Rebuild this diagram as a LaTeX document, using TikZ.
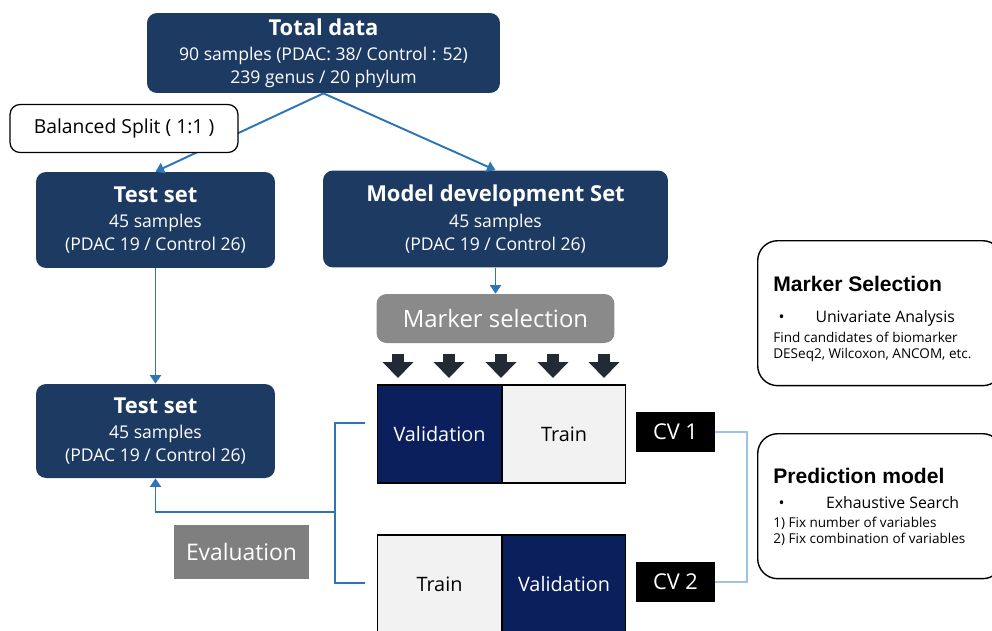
\documentclass[tikz,border=0pt]{standalone}
\usepackage{fontspec}
\setmainfont{Open Sans}
\newfontfamily\headfont{Liberation Sans}
\usetikzlibrary{arrows.meta,positioning}
\definecolor{setNavy}{HTML}{1D3A62}
\definecolor{foldNavy}{HTML}{0A1F5C}
\definecolor{foldGray}{HTML}{F2F2F2}
\definecolor{selGray}{HTML}{8A8A8A}
\definecolor{evalGray}{HTML}{7F7F7F}
\definecolor{arrowDark}{HTML}{222A35}
\definecolor{flowBlue}{HTML}{2E75B6}
\definecolor{cvBlue}{HTML}{9DC3E6}

\tikzset{
  setbox/.style={fill=setNavy,text=white,rounded corners=0.2cm,align=center,inner sep=0pt,
    font=\fontsize{10}{13}\selectfont},
  splitbox/.style={draw=black,line width=0.7pt,fill=white,rounded corners=0.2cm,inner sep=0pt,
    minimum width=4.56cm,minimum height=0.96cm,font=\fontsize{11}{13}\selectfont},
  selbox/.style={fill=selGray,text=white,rounded corners=0.2cm,inner sep=0pt,
    minimum width=4.76cm,minimum height=0.98cm,font=\fontsize{13.6}{16}\selectfont},
  evalbox/.style={fill=evalGray,text=white,inner sep=0pt,
    minimum width=2.7cm,minimum height=1.08cm,font=\fontsize{13}{15}\selectfont},
  foldcell/.style={draw=black,line width=0.6pt,inner sep=0pt,minimum width=2.47cm,
    minimum height=1.96cm,font=\fontsize{11.3}{13}\selectfont},
  valcell/.style={foldcell,fill=foldNavy,text=white},
  traincell/.style={foldcell,fill=foldGray,text=black},
  cvtag/.style={fill=black,text=white,inner sep=0pt,minimum width=1.58cm,minimum height=0.8cm,
    font=\fontsize{12.4}{14}\selectfont},
  blockarrow/.style={arrowDark,line width=0.24cm,-{Triangle[width=0.6cm,length=0.32cm]}},
  flow/.style={flowBlue,line width=1.1pt,-{Triangle[width=0.22cm,length=0.17cm]}},
  bracket/.style={flowBlue,line width=1.1pt},
  cvline/.style={cvBlue,line width=1.1pt},
  notebox/.style={draw=black,line width=0.8pt,rounded corners=0.4cm,fill=white,anchor=north west,
    minimum width=4.9cm,minimum height=2.9cm},
  notehead/.style={anchor=base west,inner sep=0pt,font=\headfont\bfseries\fontsize{12}{14}\selectfont},
  noteitem/.style={anchor=base west,inner sep=0pt,font=\fontsize{9}{11}\selectfont},
  notesmall/.style={anchor=base west,inner sep=0pt,font=\fontsize{7.7}{9}\selectfont}
}

\begin{document}
\begin{tikzpicture}[x=0.02cm,y=-0.02cm]
  \useasboundingbox (0,0) rectangle (992,630);
  \clip (0,0) rectangle (992,630);

  % data and split
  \node[setbox,minimum width=7.06cm,minimum height=1.6cm] (total) at (323.5,53) {
    {\bfseries\fontsize{12.5}{13}\selectfont Total data}\\[1.5pt]
    90 samples (PDAC: 38/ Control : 52)\\
    239 genus / 20 phylum
  };
  \node[setbox,minimum width=4.78cm,minimum height=1.92cm] (test1) at (155.5,220) {
    {\bfseries\fontsize{12.5}{13}\selectfont Test set}\\[1.5pt]
    45 samples\\
    (PDAC 19 / Control 26)
  };
  \node[setbox,minimum width=6.9cm,minimum height=1.94cm] (devset) at (495.5,219) {
    {\bfseries\fontsize{12.5}{13}\selectfont Model development Set}\\[1.5pt]
    45 samples\\
    (PDAC 19 / Control 26)
  };
  \node[selbox] (marker) at (495.5,318.5) {Marker selection};
  \node[setbox,minimum width=4.78cm,minimum height=1.88cm] (test2) at (155.5,431) {
    {\bfseries\fontsize{12.5}{13}\selectfont Test set}\\[1.5pt]
    45 samples\\
    (PDAC 19 / Control 26)
  };
  \node[evalbox] (eval) at (241.5,552) {Evaluation};

  % cross validation folds
  \node[valcell] (val1) at (439.5,434) {Validation};
  \node[traincell,right=0pt of val1] (train1) {Train};
  \node[traincell] (train2) at (439.5,584) {Train};
  \node[valcell,right=0pt of train2] (val2) {Validation};
  \node[cvtag] (cv1) at (675.5,432) {CV 1};
  \node[cvtag] (cv2) at (675.5,582) {CV 2};
  \foreach \ax in {398,449,501,553,604}
    \draw[blockarrow] (\ax,354) -- (\ax,378);

  % notes on the right
  \node[notebox] (msel) at (757,240) {};
  \node[notehead] (mselhead) at (773,291) {Marker Selection};
  \node[noteitem] (mselitem) at (773,322) {\makebox[24pt][l]{\hspace{3pt}\textbullet}Univariate Analysis};
  \node[notesmall] (mselfind) at (773,342) {Find candidates of biomarker};
  \node[notesmall] (mseltool) at (773,358) {DESeq2, Wilcoxon, ANCOM, etc.};
  \node[notebox] (pmodel) at (757,433) {};
  \node[notehead] (pmodelhead) at (773,483) {Prediction model};
  \node[noteitem] (pmodelitem) at (773,508) {\makebox[30pt][l]{\hspace{3pt}\textbullet}Exhaustive Search};
  \node[notesmall] (pmodelfix) at (773,527) {1) Fix number of variables};
  \node[notesmall] (pmodelcomb) at (773,543) {2) Fix combination of variables};

  % connectors
  \draw[flow] (total.south) -- (test1.north);
  \draw[flow] (total.south) -- (devset.north);
  \node[splitbox] (split) at (124,128.5) {Balanced Split ( 1:1 )};
  \draw[flow] (test1.south) -- (test2.north);
  \draw[flow] (devset.south) -- (marker.north);
  \coordinate (cvtop) at (365,423);
  \coordinate (cvbot) at (365,583);
  \coordinate (cvjoin) at (335,512);
  \draw[bracket] (cvtop) -- (cvtop -| cvjoin) -- (cvbot -| cvjoin) -- (cvbot);
  \draw[flow] (cvjoin) -| (test2.south);
  \draw[cvline] (cv1.east) -- ++(32,0) |- (cv2.east);
\end{tikzpicture}
\end{document}
